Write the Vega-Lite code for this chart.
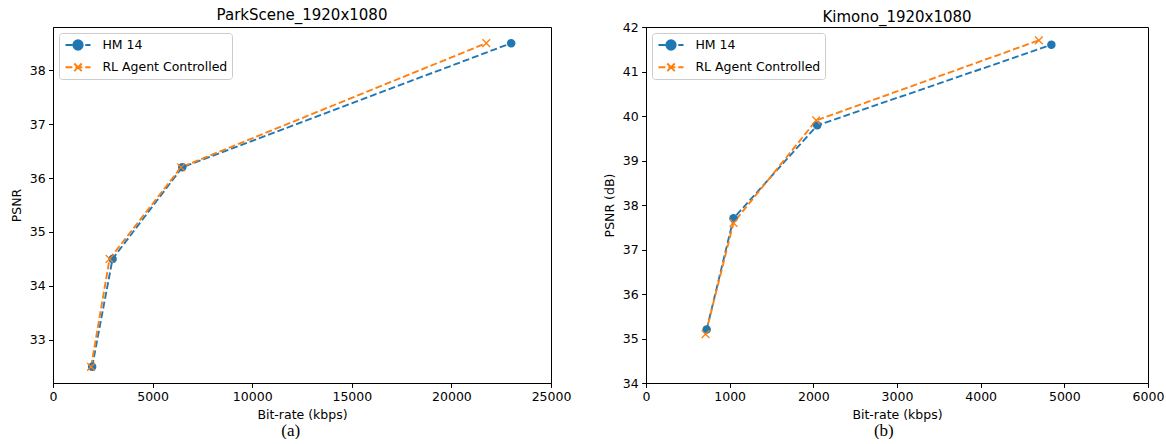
{
  "$schema": "https://vega.github.io/schema/vega-lite/v6.json",
  "padding": {"left": 10, "top": 7, "right": 5, "bottom": 0},
  "background": "white",
  "config": {
    "font": "DejaVu Sans",
    "view": {"stroke": "black", "strokeWidth": 1},
    "axis": {
      "grid": false,
      "domainColor": "black",
      "domainWidth": 1,
      "tickColor": "black",
      "tickWidth": 1,
      "tickSize": 4.4,
      "labelColor": "black",
      "labelFont": "DejaVu Sans",
      "labelFontSize": 12.5,
      "labelPadding": 3.5,
      "labelFlush": false,
      "titleFont": "DejaVu Sans",
      "titleFontSize": 12.5,
      "titleFontWeight": "normal",
      "titleColor": "black",
      "titlePadding": 5.5
    },
    "title": {"font": "DejaVu Sans", "fontSize": 15, "fontWeight": "normal", "color": "black", "offset": 4},
    "legend": {
      "orient": "top-left",
      "offset": 6,
      "title": null,
      "labelFont": "DejaVu Sans",
      "labelFontSize": 12.5,
      "labelColor": "black",
      "symbolSize": 196,
      "symbolStrokeWidth": 1.875,
      "symbolOffset": 7,
      "labelOffset": 16.4,
      "padding": 4,
      "rowPadding": 5.3,
      "strokeColor": "#cccccc",
      "fillColor": "rgba(255,255,255,0.8)",
      "cornerRadius": 3
    }
  },
  "datasets": {
    "park": [
      {"series": "HM 14", "bitrate": 1965, "psnr": 32.5},
      {"series": "HM 14", "bitrate": 2990, "psnr": 34.5},
      {"series": "HM 14", "bitrate": 6490, "psnr": 36.2},
      {"series": "HM 14", "bitrate": 23000, "psnr": 38.5},
      {"series": "RL Agent Controlled", "bitrate": 1910, "psnr": 32.5},
      {"series": "RL Agent Controlled", "bitrate": 2840, "psnr": 34.5},
      {"series": "RL Agent Controlled", "bitrate": 6430, "psnr": 36.2},
      {"series": "RL Agent Controlled", "bitrate": 21750, "psnr": 38.5}
    ],
    "kimono": [
      {"series": "HM 14", "bitrate": 725, "psnr": 35.2},
      {"series": "HM 14", "bitrate": 1046, "psnr": 37.7},
      {"series": "HM 14", "bitrate": 2047, "psnr": 39.79},
      {"series": "HM 14", "bitrate": 4845, "psnr": 41.6},
      {"series": "RL Agent Controlled", "bitrate": 712, "psnr": 35.1},
      {"series": "RL Agent Controlled", "bitrate": 1046, "psnr": 37.6},
      {"series": "RL Agent Controlled", "bitrate": 2034, "psnr": 39.9},
      {"series": "RL Agent Controlled", "bitrate": 4696, "psnr": 41.7}
    ]
  },
  "spacing": 31,
  "resolve": {"scale": {"x": "independent", "y": "independent", "color": "independent"}, "legend": {"color": "independent"}},
  "hconcat": [
    {
      "title": {"text": "(a)", "orient": "bottom", "anchor": "middle", "font": "Liberation Serif", "fontSize": 17, "offset": 1},
      "resolve": {"scale": {"color": "independent"}, "legend": {"color": "independent"}},
      "vconcat": [
        {
          "title": {"text": "ParkScene_1920x1080", "offset": 4},
          "width": 498,
          "height": 356,
          "data": {"name": "park"},
          "encoding": {
            "x": {"field": "bitrate", "type": "quantitative", "scale": {"domain": [0, 25000], "nice": false}, "axis": {"title": "Bit-rate (kbps)", "values": [0, 5000, 10000, 15000, 20000, 25000], "format": "d"}},
            "y": {"field": "psnr", "type": "quantitative", "scale": {"domain": [32.2, 38.8], "nice": false, "zero": false}, "axis": {"title": "PSNR", "values": [33, 34, 35, 36, 37, 38]}}
          },
          "layer": [
            {
              "mark": {"type": "line", "strokeDash": [6.9, 3], "strokeWidth": 1.875},
              "encoding": {
                "color": {
                  "field": "series", "type": "nominal",
                  "scale": {"domain": ["HM 14", "RL Agent Controlled"], "range": ["#1f77b4", "#ff7f0e"]},
                  "legend": {
                    "encode": {
                      "symbols": {
                        "update": {
                          "shape": {"signal": "datum.value === 'HM 14' ? 'M-1.79,0L-0.8,0M1.04,0L1.79,0M0.67,0A0.67,0.67 0 1,1 -0.67,0A0.67,0.67 0 1,1 0.67,0' : 'M-1.79,0L-0.8,0M-0.37,0L0.61,0M1.04,0L1.79,0M-0.54,-0.54L0.54,0.54M-0.54,0.54L0.54,-0.54'"},
                          "fill": {"signal": "datum.value === 'HM 14' ? '#1f77b4' : 'transparent'"},
                          "opacity": {"value": 1}
                        }
                      }
                    }
                  }
                }
              }
            },
            {
              "transform": [{"filter": "datum.series === 'HM 14'"}],
              "mark": {"type": "point", "shape": "circle", "filled": true, "size": 72, "opacity": 1},
              "encoding": {"color": {"field": "series", "type": "nominal", "scale": {"domain": ["HM 14", "RL Agent Controlled"], "range": ["#1f77b4", "#ff7f0e"]}, "legend": null}}
            },
            {
              "transform": [{"filter": "datum.series !== 'HM 14'"}],
              "mark": {"type": "point", "shape": "M-1,-1L1,1M-1,1L1,-1", "filled": false, "size": 60, "strokeWidth": 1.3, "opacity": 1},
              "encoding": {"color": {"field": "series", "type": "nominal", "scale": {"domain": ["HM 14", "RL Agent Controlled"], "range": ["#1f77b4", "#ff7f0e"]}, "legend": null}}
            }
          ]
        }
      ]
    },
    {
      "title": {"text": "(b)", "orient": "bottom", "anchor": "middle", "font": "Liberation Serif", "fontSize": 17, "offset": 1},
      "resolve": {"scale": {"color": "independent"}, "legend": {"color": "independent"}},
      "vconcat": [
        {
          "title": {"text": "Kimono_1920x1080", "offset": -3.5},
          "width": 502,
          "height": 356,
          "data": {"name": "kimono"},
          "encoding": {
            "x": {"field": "bitrate", "type": "quantitative", "scale": {"domain": [0, 6000], "nice": false}, "axis": {"title": "Bit-rate (kbps)", "values": [0, 1000, 2000, 3000, 4000, 5000, 6000], "format": "d"}},
            "y": {"field": "psnr", "type": "quantitative", "scale": {"domain": [34, 42], "nice": false, "zero": false}, "axis": {"title": "PSNR (dB)", "values": [34, 35, 36, 37, 38, 39, 40, 41, 42]}}
          },
          "layer": [
            {
              "mark": {"type": "line", "strokeDash": [6.9, 3], "strokeWidth": 1.875},
              "encoding": {
                "color": {
                  "field": "series", "type": "nominal",
                  "scale": {"domain": ["HM 14", "RL Agent Controlled"], "range": ["#1f77b4", "#ff7f0e"]},
                  "legend": {
                    "encode": {
                      "symbols": {
                        "update": {
                          "shape": {"signal": "datum.value === 'HM 14' ? 'M-1.79,0L-0.8,0M1.04,0L1.79,0M0.67,0A0.67,0.67 0 1,1 -0.67,0A0.67,0.67 0 1,1 0.67,0' : 'M-1.79,0L-0.8,0M-0.37,0L0.61,0M1.04,0L1.79,0M-0.54,-0.54L0.54,0.54M-0.54,0.54L0.54,-0.54'"},
                          "fill": {"signal": "datum.value === 'HM 14' ? '#1f77b4' : 'transparent'"},
                          "opacity": {"value": 1}
                        }
                      }
                    }
                  }
                }
              }
            },
            {
              "transform": [{"filter": "datum.series === 'HM 14'"}],
              "mark": {"type": "point", "shape": "circle", "filled": true, "size": 72, "opacity": 1},
              "encoding": {"color": {"field": "series", "type": "nominal", "scale": {"domain": ["HM 14", "RL Agent Controlled"], "range": ["#1f77b4", "#ff7f0e"]}, "legend": null}}
            },
            {
              "transform": [{"filter": "datum.series !== 'HM 14'"}],
              "mark": {"type": "point", "shape": "M-1,-1L1,1M-1,1L1,-1", "filled": false, "size": 60, "strokeWidth": 1.3, "opacity": 1},
              "encoding": {"color": {"field": "series", "type": "nominal", "scale": {"domain": ["HM 14", "RL Agent Controlled"], "range": ["#1f77b4", "#ff7f0e"]}, "legend": null}}
            }
          ]
        }
      ]
    }
  ]
}
